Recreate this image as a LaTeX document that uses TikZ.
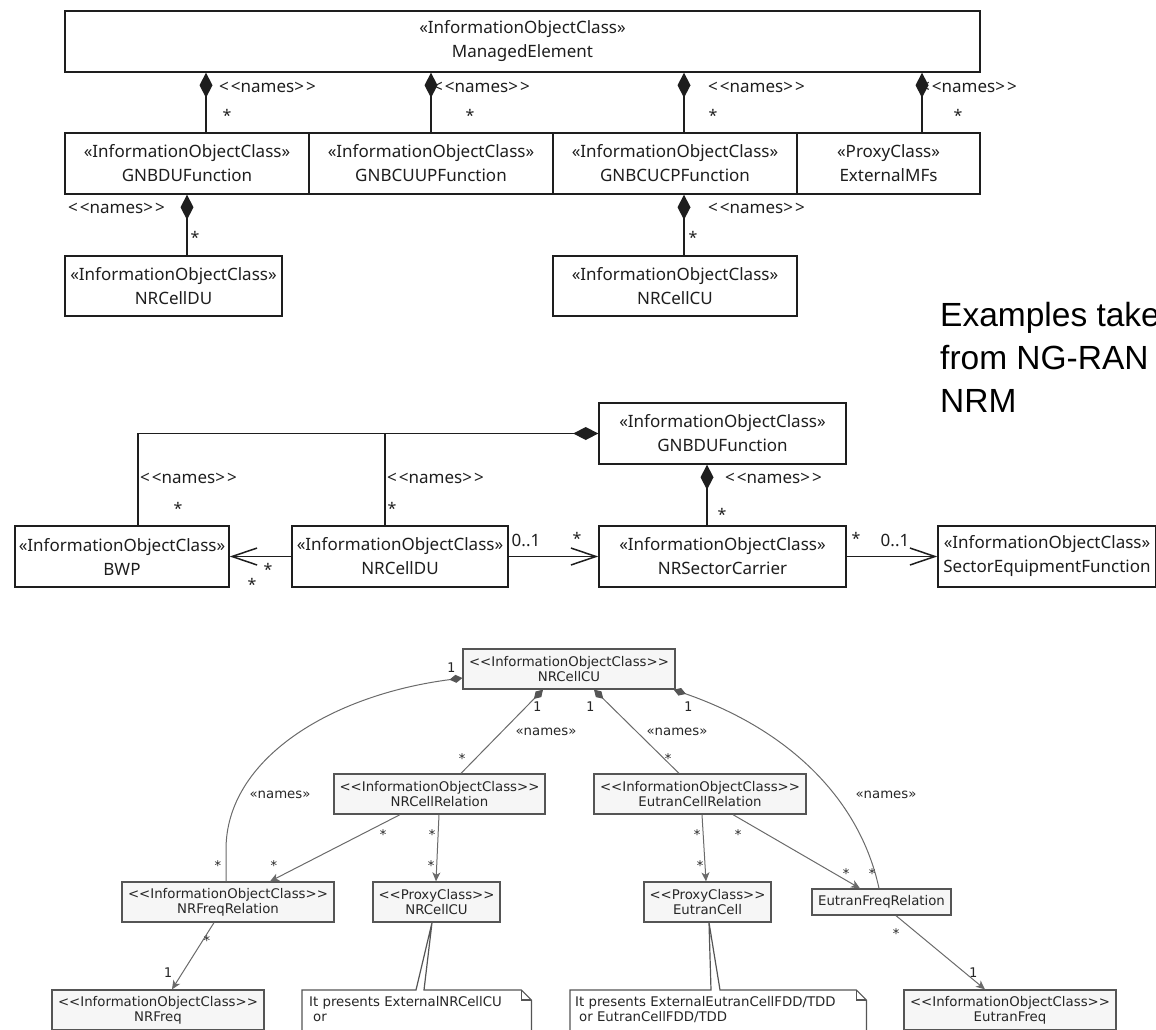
\documentclass[tikz,border=0pt]{standalone}
\usepackage{fontspec}
\setmainfont{Noto Sans}
\newfontfamily\pufont{DejaVu Sans}
\newfontfamily\pumono{DejaVu Sans Mono}
\newfontfamily\arialfont{Liberation Sans}
\usetikzlibrary{arrows.meta,calc}

\definecolor{ink}{HTML}{1E1E1E}
\definecolor{pugray}{HTML}{555555}
\definecolor{puline}{HTML}{6A6A6A}
\definecolor{pufill}{HTML}{F6F6F6}

% stereotype brackets written out so no ligature mapping turns them into guillemets
\newcommand\nmlbl{<\kern2pt<names>\kern2pt>}
\newcommand\dlt{<\kern0pt<}
\newcommand\dgt{>\kern0pt>}

\tikzset{
  ecbox/.style={draw=ink, line width=1.5pt, fill=white, inner sep=0pt, align=center,
    text=ink, font=\fontsize{17}{24}\selectfont, execute at begin node={\rule{0pt}{19pt}}},
  eclbl/.style={inner sep=0pt, text=ink, font=\fontsize{17}{20}\selectfont},
  ecstar/.style={inner sep=0pt, text=ink, font=\fontsize{16}{20}\selectfont, yshift=-3.5pt},
  eccomp/.style={draw=ink, line width=1.5pt, -{Diamond[length=25pt,width=13pt]}},
  ecline/.style={draw=ink, line width=1.5pt},
  ecnav/.style={draw=ink, line width=1.5pt, -{Straight Barb[length=25pt,width=17pt]}},
  pubox/.style={draw=pugray, line width=1.3pt, fill=pufill, inner sep=0pt, align=center,
    text=black!85, font=\pufont\fontsize{13.3}{15}\selectfont},
  pulbl/.style={inner sep=0pt, text=black!85, font=\pufont\fontsize{13.3}{15}\selectfont},
  pumult/.style={inner sep=0pt, text=black!85, font=\pumono\fontsize{13.3}{15}\selectfont},
  pustar/.style={pumult, yshift=-2.7pt},
  pucomp/.style={draw=puline, line width=1pt, {Diamond[length=13pt,width=8pt,color=pugray]}-},
  puarrow/.style={draw=puline, line width=1pt, -{Stealth[length=9pt,width=8pt,inset=2.5pt]}},
  punote/.style={draw=pugray, line width=1.2pt, fill=white, line join=miter},
  bigtext/.style={inner sep=0pt, anchor=base west, text=black, font=\arialfont\fontsize{33.5}{42}\selectfont},
}

\begin{document}
\begin{tikzpicture}[x=1pt,y=-1pt]
\useasboundingbox (0,0) rectangle (1156,1029);
\clip (0,0) rectangle (1156,1029);

%% ---------- containment of the gNB functions ----------
\node[ecbox, minimum width=915pt, minimum height=61pt] (me) at (522.5,41.5) {«InformationObjectClass»\\ManagedElement};
\node[ecbox, minimum width=244pt, minimum height=61pt] (gdu) at (187,163.5) {«InformationObjectClass»\\GNBDUFunction};
\node[ecbox, minimum width=244pt, minimum height=61pt] (gup) at (431,163.5) {«InformationObjectClass»\\GNBCUUPFunction};
\node[ecbox, minimum width=244pt, minimum height=61pt] (gcp) at (675,163.5) {«InformationObjectClass»\\GNBCUCPFunction};
\node[ecbox, minimum width=183pt, minimum height=61pt] (emf) at (888.5,163.5) {«ProxyClass»\\ExternalMFs};
\node[ecbox, minimum width=217pt, minimum height=60pt] (cdu) at (173.5,286) {«InformationObjectClass»\\NRCellDU};
\node[ecbox, minimum width=244pt, minimum height=60pt] (ccu) at (675,286) {«InformationObjectClass»\\NRCellCU};

\node[eclbl, anchor=west] (ln1) at (219,87) {\nmlbl};
\node[eclbl, anchor=west] (ln2) at (433,87) {\nmlbl};
\node[eclbl, anchor=west] (ln3) at (708,87) {\nmlbl};
\node[eclbl, anchor=west] (ln4) at (920,87) {\nmlbl};
\node[ecstar] (ls1) at (227,112) {*};
\node[ecstar] (ls2) at (470,112) {*};
\node[ecstar] (ls3) at (713,112) {*};
\node[ecstar] (ls4) at (958,112) {*};
\node[eclbl, anchor=west] (ln5) at (68,208) {\nmlbl};
\node[eclbl, anchor=west] (ln6) at (708,208) {\nmlbl};
\node[ecstar] (ls5) at (195,234) {*};
\node[ecstar] (ls6) at (693,234) {*};

\coordinate (t1) at ($(gdu.north)+(19,0)$);
\coordinate (t3) at ($(gcp.north)+(9,0)$);
\coordinate (t4) at ($(emf.north)+(33.5,0)$);
\coordinate (t5) at ($(cdu.north)+(13.5,0)$);
\coordinate (t6) at ($(ccu.north)+(9,0)$);
\draw[eccomp] (t1) -- (t1 |- me.south);
\draw[eccomp] (gup.north) -- (gup.north |- me.south);
\draw[eccomp] (t3) -- (t3 |- me.south);
\draw[eccomp] (t4) -- (t4 |- me.south);
\draw[eccomp] (t5) -- (t5 |- gdu.south);
\draw[eccomp] (t6) -- (t6 |- gcp.south);

%% ---------- gNB-DU side ----------
\node[ecbox, minimum width=214pt, minimum height=61pt] (bwp) at (122,556.5) {«InformationObjectClass»\\BWP};
\node[ecbox, minimum width=216pt, minimum height=61pt] (mdu) at (400,556.5) {«InformationObjectClass»\\NRCellDU};
\node[ecbox, minimum width=247pt, minimum height=61pt] (mgd) at (722.5,433.5) {«InformationObjectClass»\\GNBDUFunction};
\node[ecbox, minimum width=247pt, minimum height=61pt] (msc) at (722.5,556.5) {«InformationObjectClass»\\NRSectorCarrier};
\node[ecbox, minimum width=218pt, minimum height=61pt] (sef) at (1047,556.5) {«InformationObjectClass»\\SectorEquipmentFunction};

\node[eclbl, anchor=west] (ln7) at (140,478) {\nmlbl};
\node[eclbl, anchor=west] (ln8) at (387,478) {\nmlbl};
\node[eclbl, anchor=west] (ln9) at (725,478) {\nmlbl};
\node[ecstar] (ls7) at (178,505) {*};
\node[ecstar] (ls8) at (392,505) {*};
\node[ecstar] (ls9) at (722,511) {*};
\node[ecstar] (ls10) at (268,566) {*};
\node[ecstar] (ls11) at (252,581) {*};
\node[eclbl] (lm1) at (526,540) {0..1};
\node[ecstar] (ls12) at (577,535) {*};
\node[ecstar] (ls13) at (856,535) {*};
\node[eclbl] (lm2) at (895,540) {0..1};

\coordinate (u1) at ($(bwp.north)+(16,0)$);
\coordinate (u2) at ($(mdu.north)+(-15,0)$);
\coordinate (u3) at ($(msc.north)+(-15.5,0)$);
\draw[eccomp] (u1) |- (mgd.west);
\draw[ecline] (u2) -- (u2 |- mgd.west);
\draw[eccomp] (u3) -- (u3 |- mgd.south);
\draw[ecnav] (mdu.west) -- (bwp.east);
\draw[ecnav] (mdu.east) -- (msc.west);
\draw[ecnav] (msc.east) -- (sef.west);

%% ---------- caption ----------
\node[bigtext] (ex1) at (940,326) {Examples taken};
\node[bigtext] (ex2) at (940,369) {from NG-RAN};
\node[bigtext] (ex3) at (940,412) {NRM};

%% ---------- NRCellCU relations ----------
\node[pubox, minimum width=212pt, minimum height=40pt] (bcu) at (569,669) {\dlt InformationObjectClass\dgt\\NRCellCU};
\node[pubox, minimum width=211pt, minimum height=40pt] (nrr) at (439.5,794) {\dlt InformationObjectClass\dgt\\NRCellRelation};
\node[pubox, minimum width=212pt, minimum height=40pt] (ecr) at (700,794) {\dlt InformationObjectClass\dgt\\EutranCellRelation};
\node[pubox, minimum width=212pt, minimum height=40pt] (nfr) at (228,902) {\dlt InformationObjectClass\dgt\\NRFreqRelation};
\node[pubox, minimum width=127pt, minimum height=40pt] (pcu) at (436.5,902) {\dlt ProxyClass\dgt\\NRCellCU};
\node[pubox, minimum width=127pt, minimum height=40pt] (pec) at (707.5,902) {\dlt ProxyClass\dgt\\EutranCell};
\node[pubox, minimum width=139pt, minimum height=26pt] (efr) at (881.5,902) {EutranFreqRelation};
\node[pubox, minimum width=212pt, minimum height=40pt] (nfq) at (158,1010) {\dlt InformationObjectClass\dgt\\NRFreq};
\node[pubox, minimum width=212pt, minimum height=40pt] (efq) at (1010,1010) {\dlt InformationObjectClass\dgt\\EutranFreq};

% notes with their anchoring wedges
\node[anchor=north west, minimum width=229pt, minimum height=50pt, inner sep=0pt] (nt1) at (302,990) {};
\node[anchor=north west, minimum width=296pt, minimum height=50pt, inner sep=0pt] (nt2) at (570,990) {};
\draw[punote] (nt1.north west) -- ($(nt1.north west)+(114,0)$) -- ($(pcu.south)+(-4.5,0)$)
  -- ($(nt1.north west)+(122,0)$) -- ($(nt1.north east)+(-10,0)$) -- ($(nt1.north east)+(0,10)$)
  -- (nt1.south east) -- (nt1.south west) -- cycle;
\draw[punote, fill=none] ($(nt1.north east)+(-10,0)$) -- ($(nt1.north east)+(-10,10)$) -- ($(nt1.north east)+(0,10)$);
\draw[punote] (nt2.north west) -- ($(nt2.north west)+(141,0)$) -- ($(pec.south)+(1.5,0)$)
  -- ($(nt2.north west)+(150,0)$) -- ($(nt2.north east)+(-10,0)$) -- ($(nt2.north east)+(0,10)$)
  -- (nt2.south east) -- (nt2.south west) -- cycle;
\draw[punote, fill=none] ($(nt2.north east)+(-10,0)$) -- ($(nt2.north east)+(-10,10)$) -- ($(nt2.north east)+(0,10)$);
\node[pulbl, anchor=north west, align=left] (nt1t) at (309,996.6) {It presents ExternalNRCellCU\\\hspace*{4pt}or};
\node[pulbl, anchor=north west, align=left] (nt2t) at (575,996.6) {It presents ExternalEutranCellFDD/TDD\\\hspace*{4pt}or EutranCellFDD/TDD};

% connectors
\draw[pucomp] ($(bcu.west)+(0,9)$) .. controls (330,695) and ($(nfr.north)+(-2,-122)$) .. ($(nfr.north)+(-2,-32)$) -- ($(nfr.north)+(-2,0)$);
\draw[pucomp] ($(bcu.south)+(-26,0)$) -- ($(nrr.north)+(21.5,0)$);
\draw[pucomp] ($(bcu.south)+(25,0)$) -- ($(ecr.north)+(-21,0)$);
\draw[pucomp] ($(bcu.south east)+(-2,0)$) .. controls (790,730) and (860,800) .. ($(efr.north)+(-2.5,0)$);
\draw[puarrow] ($(nrr.south)+(-39.5,0)$) -- ($(nfr.north)+(42,0)$);
\draw[puarrow] ($(nrr.south)+(-0.5,0)$) -- ($(pcu.north)+(-0.5,0)$);
\draw[puarrow] ($(ecr.south)+(2,0)$) -- ($(pec.north)+(-1.5,0)$);
\draw[puarrow] ($(ecr.south)+(33,0)$) -- ($(efr.north)+(-21.5,0)$);
\draw[puarrow] ($(nfr.south)+(-14,0)$) -- ($(nfq.north)+(14,0)$);
\draw[puarrow] ($(efr.south)+(14.5,0)$) -- ($(efq.north)+(-25,0)$);

% multiplicities and role labels
\foreach \p [count=\i] in {{451,668},{537,707},{590,707},{688,707},{168,973},{973,973}}
  \node[pumult] (bo\i) at (\p) {1};
\foreach \p [count=\i] in {{280,795},{546,732},{677,732},{886,795}}
  \node[pulbl] (bn\i) at (\p) {«names»};
\foreach \p [count=\i] in {{218,863},{462,756},{668,756},{872,871},{383,832},{274,863},
    {432,832},{431,863},{697,832},{700,863},{738,832},{846,871},{207,938},{896,931}}
  \node[pustar] (bs\i) at (\p) {*};
\end{tikzpicture}
\end{document}
